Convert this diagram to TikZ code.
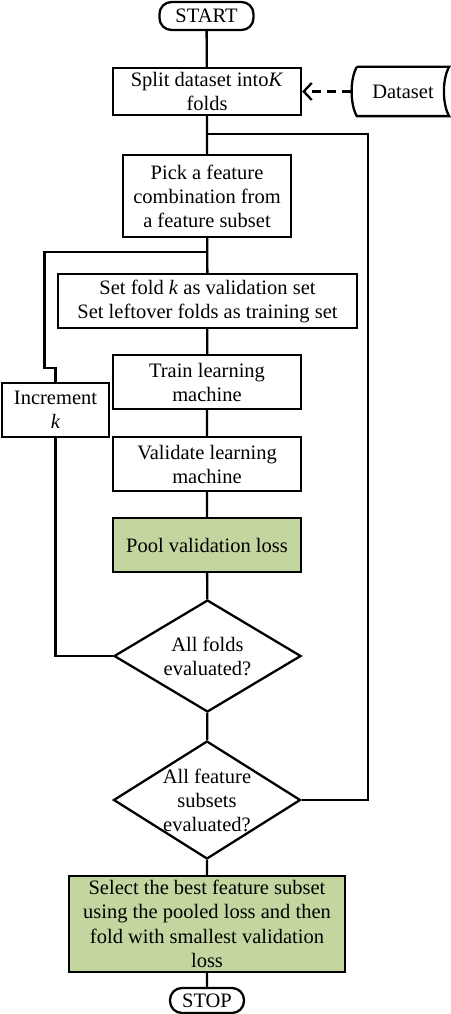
\documentclass[tikz,border=0pt]{standalone}
\usepackage{fontspec}
\setmainfont{Liberation Serif}
\usetikzlibrary{shapes.geometric,arrows.meta,calc}
\definecolor{boxgreen}{HTML}{C4D6A0}
\begin{document}
\begin{tikzpicture}[x=1pt,y=-1pt,line width=2.3pt,
  every node/.style={font=\fontsize{20.5}{24}\selectfont, align=center, inner sep=0pt},
  proc/.style={draw, rectangle, minimum width=#1},
  term/.style={draw, rectangle, rounded corners=12pt},
  dec/.style={draw, diamond, minimum width=187pt},
  greenbox/.style={fill=boxgreen}]
\useasboundingbox (0,0) rectangle (450,1014);

\node[term, minimum width=94pt, minimum height=28pt] (start) at (206.5,16) {START};
\node[proc=188pt, minimum height=47pt] (split) at (207,91.5) {Split dataset into\textit{K}\\folds};
\node[minimum width=96pt, minimum height=47pt] (dataset) at (400,91.5) {\hspace*{6pt}Dataset};
\draw ([xshift=6pt]dataset.north west) -- (dataset.north east)
  .. controls ([xshift=-7pt,yshift=-12pt]dataset.north east) and ([xshift=-7pt,yshift=12pt]dataset.south east) .. (dataset.south east)
  -- ([xshift=6pt]dataset.south west)
  .. controls ([xshift=-1pt,yshift=12pt]dataset.south west) and ([xshift=-1pt,yshift=-12pt]dataset.north west) .. ([xshift=6pt]dataset.north west);
\draw[dash pattern=on 9pt off 6pt, -{Straight Barb[length=8pt,width=17pt,line width=2.3pt]}] (dataset.west) -- (split.east);

\node[proc=168pt, minimum height=82pt] (pick) at (207,196) {Pick a feature\\combination from\\a feature subset};
\node[proc=299pt, minimum height=54pt] (setb) at (207.5,301) {Set fold \textit{k} as validation set\\Set leftover folds as training set};
\node[proc=188pt, minimum height=54pt] (train) at (207,382) {Train learning\\machine};
\node[proc=107pt, minimum height=54pt] (inc) at (55.5,410) {Increment\\\textit{k}};
\node[proc=188pt, minimum height=54pt] (valid) at (207,464) {Validate learning\\machine};
\node[proc=188pt, minimum height=54pt, greenbox] (pool) at (207,545) {Pool validation loss};
\node[dec, minimum height=112pt, label={center:{All folds\\evaluated?}}] (d1) at (207.5,656) {};
\node[dec, minimum height=118pt, label={center:{All feature\\subsets\\evaluated?}}] (d2) at (207,800) {};
\node[proc=276pt, minimum height=96pt, greenbox, font=\fontsize{20.5}{24.5}\selectfont] (select) at (207,924) {Select the best feature subset\\using the pooled loss and then\\fold with smallest validation\\loss};
\node[term, minimum width=74pt, minimum height=25pt] (stop) at (207,1000.5) {STOP};

\coordinate (j1) at (207,134);
\coordinate (j2) at (207,252);

\draw (start) -- (split) -- (pick) -- (setb) -- (train) -- (valid) -- (pool) -- (d1) -- (d2) -- (select) -- (stop);
\draw (d2.east) -- ++(66,0) |- (j1);
\draw (d1.west) -| (inc.south);
\draw (inc.north) -- ++(0,-14) -- ++(-11,0) |- (j2);
\end{tikzpicture}
\end{document}
